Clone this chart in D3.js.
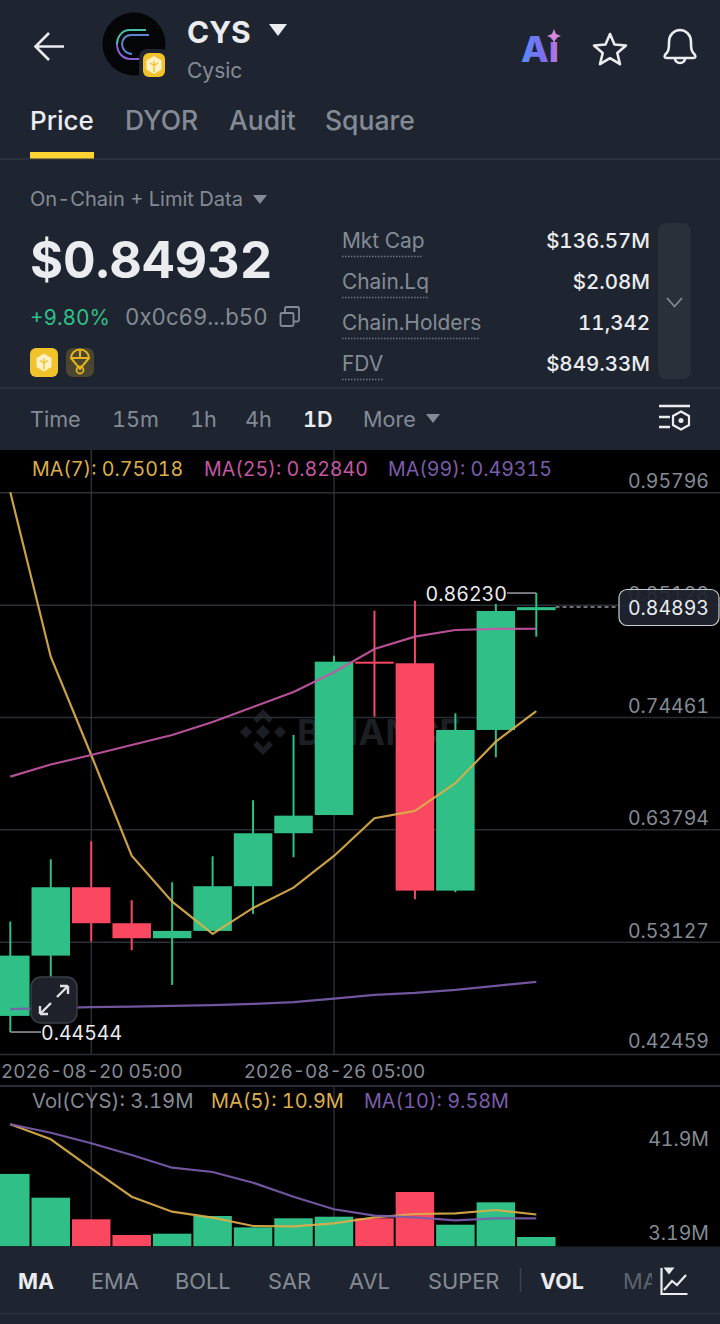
<!DOCTYPE html>
<html>
<head>
<meta charset="utf-8">
<title>CYS</title>
<script src="https://cdn.jsdelivr.net/npm/d3@7/dist/d3.min.js"></script>
<style>
    html, body { margin: 0; padding: 0; background: #1f2530; overflow: hidden; }
    svg { display: block; }
    text { font-family: Inter, "Noto Sans", sans-serif; font-variant-numeric: tabular-nums; }
    .axis path { display: none; }
</style>
</head>
<body>
<svg id="chart" width="720" height="1324"></svg>
<script>
// candles, one per day
var dates = ["2026-08-18", "2026-08-19", "2026-08-20", "2026-08-21", "2026-08-22", "2026-08-23", "2026-08-24",
    "2026-08-25", "2026-08-26", "2026-08-27", "2026-08-28", "2026-08-29", "2026-08-30", "2026-08-31"];
var opens = [0.46076, 0.5180, 0.58295, 0.54877, 0.53453, 0.54146, 0.5839, 0.63421, 0.6515, 0.79713, 0.79561, 0.57972, 0.73229, 0.84603];
var closes = [0.51801, 0.58295, 0.54877, 0.53453, 0.54146, 0.5839, 0.63421, 0.65092, 0.79713, 0.79561, 0.57972, 0.73229, 0.84527, 0.84893];
var highs = [0.55029, 0.60953, 0.62662, 0.5706, 0.58769, 0.61238, 0.66554, 0.72754, 0.80283, 0.84555, 0.85504, 0.74814, 0.85191, 0.8623];
var lows = [0.44544, 0.4902, 0.5313, 0.52313, 0.49019, 0.54146, 0.5576, 0.61143, 0.6515, 0.74491, 0.57155, 0.5782, 0.70637, 0.82087];

// moving averages
var ma7 = [0.958, 0.80188, 0.70855, 0.61295, 0.56928, 0.53861, 0.5633, 0.58257, 0.61266, 0.64846, 0.65539, 0.68168, 0.72118, 0.75018];
var ma25 = [0.68795, 0.69953, 0.70855, 0.71805, 0.72754, 0.73988, 0.75412, 0.76836, 0.78707, 0.80919, 0.82087, 0.82723, 0.82818, 0.8284];
var ma99 = [0.46712, 0.46807, 0.46902, 0.46959, 0.47026, 0.47092, 0.47215, 0.47377, 0.47718, 0.48069, 0.48259, 0.48544, 0.48924, 0.49315];

// volume pane, in millions
var volumes = [24.8, 16.65, 9.25, 3.87, 4.32, 10.38, 6.5, 9.6, 10.14, 9.6, 18.6, 7.4, 15.07, 3.19];
var volMa5 = [41.8, 36.66, 26.72, 17.0, 11.85, 9.8, 6.95, 6.85, 7.88, 9.94, 11.07, 11.3, 12.44, 10.9];
var volMa10 = [41.8, 38.92, 35.29, 31.28, 26.93, 25.46, 21.79, 16.99, 12.68, 10.48, 9.94, 8.91, 9.59, 9.58];

// tick labels
var priceTicks = [0.95796, 0.85128, 0.74461, 0.63794, 0.53127, 0.42459];
var dateTicks = ["2026-08-20", "2026-08-26"];
var volTicks = [41.9, 3.19];
var lastPrice = 0.84893;

// app text
var tabs = [["Price", 30], ["DYOR", 125], ["Audit", 229], ["Square", 325]];
var stats = [["Mkt Cap", "$136.57M", 241, 81], ["Chain.Lq", "$2.08M", 282, 87], ["Chain.Holders", "11,342", 323, 139], ["FDV", "$849.33M", 364, 42]];
var intervals = [["Time", 30], ["15m", 112], ["1h", 190], ["4h", 245], ["1D", 303], ["More", 363]];
var indicators = [["MA", 18], ["EMA", 91], ["BOLL", 175], ["SAR", 268], ["AVL", 349], ["SUPER", 428], ["VOL", 540], ["MA", 623]];

var green = "#2fbf87", red = "#f9485f", gold = "#dcae4a", pink = "#c457a4", purple = "#7b5cab";
var grey = "#848b95", white = "#eaecef", panel = "#1f2530", rule = "#2a2e36";

var svg = d3.select("#chart");

// scales
var x = d3.scalePoint().domain(dates).range([10.3, 536.3]);
var y = d3.scaleLinear().domain([0.95796, 0.42459]).range([492.3, 1054]);
var yVol = d3.scaleLinear().domain([0, 41.9]).range([1246.3, 1124]);
var bodyW = 38.5;

function label(g, str, px, py, size, fill, weight, anchor) {
    return g.append("text").attr("x", px).attr("y", py)
        .attr("font-size", size).attr("fill", fill)
        .attr("font-weight", weight || 400)
        .attr("text-anchor", anchor || "start")
        .text(str);
}

function tri(g, cx, cy, w, h, fill) {
    g.append("path").attr("d", d3.line()([[cx - w / 2, cy - h / 2], [cx + w / 2, cy - h / 2], [cx, cy + h / 2]]) + "Z").attr("fill", fill);
}

// the little yellow bnb chain badge
function badge(g, bx, by, w, h) {
    g.append("rect").attr("x", bx).attr("y", by).attr("width", w).attr("height", h).attr("rx", 6).attr("fill", "#f0c32c");
    var cx = bx + w / 2, cy = by + h / 2;
    g.append("path").attr("d", "M" + cx + "," + (cy - 9) + "l7.5,4.5v9l-7.5,4.5l-7.5,-4.5v-9Z")
        .attr("fill", "#fff6d8").attr("fill-opacity", 0.9);
    g.append("path").attr("d", "M" + cx + "," + (cy - 4) + "v11M" + (cx - 4) + "," + (cy - 2) + "l4,2.5l4,-2.5")
        .attr("fill", "none").attr("stroke", "#f0c32c").attr("stroke-width", 1.4);
}

/************ chart panes ************/
var pane = svg.append("g");
pane.append("rect").attr("x", 0).attr("y", 450).attr("width", 720).attr("height", 797).attr("fill", "#000");

// watermark sits behind the candles
var wm = pane.append("g").attr("transform", "translate(263,732)").attr("fill", "#1b1e23");
wm.append("path").attr("d", "M0,-23L10,-13L6,-9L0,-15L-6,-9L-10,-13ZM0,23L10,13L6,9L0,15L-6,9L-10,13ZM-23,0L-17,-6L-11,0L-17,6ZM23,0L17,-6L11,0L17,6ZM0,-7L7,0L0,7L-7,0Z");
label(wm, "BINANCE", 34, 13, 36, "#1b1e23", 700);

// horizontal grid and price labels come from the axis
var yAxis = d3.axisRight(y).tickValues(priceTicks).tickSize(720).tickFormat(d3.format(".5f"));
var gy = pane.append("g").attr("class", "axis").call(yAxis);
gy.selectAll("line").attr("stroke", rule).attr("stroke-width", 1.5);
gy.selectAll("text").attr("x", 709).attr("dy", function (d, i) { return i == 5 ? -6.5 : -4.5; })
    .attr("text-anchor", "end").attr("font-size", 19.5).attr("fill", grey)
    .style("font-family", "Inter, sans-serif");

// vertical date lines run through both panes
dateTicks.forEach(function (d) {
    pane.append("line").attr("x1", x(d)).attr("x2", x(d)).attr("y1", 450).attr("y2", 1054).attr("stroke", "#343743").attr("stroke-width", 1.2);
    pane.append("line").attr("x1", x(d)).attr("x2", x(d)).attr("y1", 1087).attr("y2", 1246).attr("stroke", "#343743").attr("stroke-width", 1.2);
});

// date labels
var xAxis = d3.axisBottom(x).tickValues(dateTicks).tickSize(0).tickFormat(function (d) { return d + " 05:00"; });
var gx = pane.append("g").attr("class", "axis").attr("transform", "translate(0,1054)").call(xAxis);
gx.selectAll("text").attr("y", 24).attr("dy", 0).attr("font-size", 18.9).attr("fill", grey)
    .style("font-family", "Inter, sans-serif");
pane.append("line").attr("x1", 0).attr("x2", 720).attr("y1", 1086).attr("y2", 1086).attr("stroke", rule).attr("stroke-width", 2);

// candles
var candle = pane.selectAll(".candle").data(dates).enter().append("g").attr("class", "candle")
    .attr("fill", function (d, i) { return closes[i] >= opens[i] ? green : red; });
candle.append("rect").attr("class", "wick")
    .attr("x", function (d) { return x(d) - 1; }).attr("width", 2)
    .attr("y", function (d, i) { return y(highs[i]); })
    .attr("height", function (d, i) { return y(lows[i]) - y(highs[i]); });
candle.append("rect").attr("class", "body")
    .attr("x", function (d) { return x(d) - bodyW / 2; }).attr("width", bodyW)
    .attr("y", function (d, i) { return y(Math.max(opens[i], closes[i])); })
    .attr("height", function (d, i) { return Math.max(2, Math.abs(y(opens[i]) - y(closes[i]))); });

// volume bars
pane.selectAll(".vol").data(dates).enter().append("rect").attr("class", "vol")
    .attr("x", function (d) { return x(d) - bodyW / 2; }).attr("width", bodyW)
    .attr("y", function (d, i) { return yVol(volumes[i]); })
    .attr("height", function (d, i) { return yVol(0) - yVol(volumes[i]); })
    .attr("fill", function (d, i) { return closes[i] >= opens[i] ? green : red; });

// moving average lines
function maLine(values, scale, colour) {
    var line = d3.line().x(function (d, i) { return x(dates[i]); }).y(function (d) { return scale(d); });
    pane.append("path").attr("d", line(values)).attr("fill", "none")
        .attr("stroke", colour).attr("stroke-width", 2.2).attr("stroke-opacity", 0.92);
}
maLine(ma7, y, gold);
maLine(ma25, y, pink);
maLine(ma99, y, purple);
maLine(volMa5, yVol, gold);
maLine(volMa10, yVol, purple);

// high and low markers
var hiDate = dates[highs.indexOf(d3.max(highs))], loDate = dates[lows.indexOf(d3.min(lows))];
pane.append("line").attr("x1", x(hiDate)).attr("x2", 507).attr("y1", y(d3.max(highs))).attr("y2", y(d3.max(highs))).attr("stroke", "#9a9da3").attr("stroke-width", 1.5);
label(pane, d3.format(".5f")(d3.max(highs)), 507, 601, 19.6, white, 400, "end");
pane.append("line").attr("x1", x(loDate)).attr("x2", 41).attr("y1", y(d3.min(lows))).attr("y2", y(d3.min(lows))).attr("stroke", "#9a9da3").attr("stroke-width", 1.5);
label(pane, d3.format(".5f")(d3.min(lows)), 41, 1040, 19.5, white);

// last price tag
pane.append("line").attr("x1", x(dates[13]) + bodyW / 2).attr("x2", 619).attr("y1", y(lastPrice)).attr("y2", y(lastPrice))
    .attr("stroke", "#8f9298").attr("stroke-width", 1.5).attr("stroke-dasharray", "4 3");
pane.append("rect").attr("x", 619).attr("y", 589.5).attr("width", 100).attr("height", 36).attr("rx", 8)
    .attr("fill", "#1f2530").attr("fill-opacity", 0.92).attr("stroke", "#c9ccd1").attr("stroke-width", 1.2);
label(pane, d3.format(".5f")(lastPrice), 709, 615, 19.5, white, 400, "end");

// legends
label(pane, "MA(7): 0.75018", 32, 476, 19.6, gold);
label(pane, "MA(25): 0.82840", 204, 476, 19.6, pink);
label(pane, "MA(99): 0.49315", 388, 476, 19.6, purple);
label(pane, "Vol(CYS): 3.19M", 32, 1108, 20.3, grey);
label(pane, "MA(5): 10.9M", 211, 1108, 19.9, gold);
label(pane, "MA(10): 9.58M", 364, 1108, 19.8, purple);
label(pane, volTicks[0] + "M", 709, 1146, 19.5, grey, 400, "end");
label(pane, volTicks[1] + "M", 709, 1240, 19.5, grey, 400, "end");

// expand button
var btn = pane.append("g").attr("transform", "translate(54,1000)");
btn.append("rect").attr("x", -23).attr("y", -23).attr("width", 46).attr("height", 46).attr("rx", 10)
    .attr("fill", "#1e2129").attr("stroke", "#3a3e47").attr("stroke-width", 1.5);
btn.append("path").attr("d", "M-14,14L-3,3M-14,14L-14,6M-14,14L-6,14M14,-14L3,-3M14,-14L14,-6M14,-14L6,-14")
    .attr("fill", "none").attr("stroke", "#dfe1e4").attr("stroke-width", 2.4);

/************ app chrome ************/
var ui = svg.append("g");
ui.append("rect").attr("y", 0).attr("width", 720).attr("height", 450).attr("fill", panel);
ui.append("rect").attr("y", 1246.5).attr("width", 720).attr("height", 78).attr("fill", panel);
[[159, 2], [388, 2], [1313.5, 1.5]].forEach(function (r) {
    ui.append("line").attr("x1", 0).attr("x2", 720).attr("y1", r[0]).attr("y2", r[0]).attr("stroke", "#2b313b").attr("stroke-width", r[1]);
});

// header
ui.append("path").attr("d", "M64,46.5H36M49,33L35.5,46.5L49,60").attr("fill", "none").attr("stroke", white).attr("stroke-width", 2.6);
ui.append("circle").attr("cx", 134).attr("cy", 44).attr("r", 31.5).attr("fill", "#040506");
ui.append("path").attr("d", "M146,30H130C121,30 117,38 117,44").attr("fill", "none").attr("stroke", "#46c2a6").attr("stroke-width", 2);
ui.append("path").attr("d", "M117,44C117,52 122,59 131,59H140").attr("fill", "none").attr("stroke", "#8a62d8").attr("stroke-width", 2);
ui.append("path").attr("d", "M149,35H131C125,35 122,40 122,44C122,49 126,54 132,54").attr("fill", "none").attr("stroke", "#5d86d0").attr("stroke-width", 2);
ui.append("rect").attr("x", 139).attr("y", 49).attr("width", 30).attr("height", 34).attr("rx", 8).attr("fill", panel);
badge(ui, 143, 53, 22, 24);
label(ui, "CYS", 187, 43, 30, white, 700);
tri(ui, 278, 30, 18, 12, white);
label(ui, "Cysic", 187, 78, 21, grey);

// ai, star, bell
var aiGrad = svg.append("defs").append("linearGradient").attr("id", "aiGrad").attr("x1", "0").attr("x2", "1");
aiGrad.append("stop").attr("offset", "0").attr("stop-color", "#5a8cf5");
aiGrad.append("stop").attr("offset", "0.6").attr("stop-color", "#7c6cf0");
aiGrad.append("stop").attr("offset", "1").attr("stop-color", "#c07ae0");
label(ui, "Ai", 521, 62, 36, "url(#aiGrad)", 800);
ui.append("path").attr("d", "M554,29l2,5l5,2l-5,2l-2,5l-2,-5l-5,-2l5,-2Z").attr("fill", "#d58ad8");
ui.append("path").attr("d", "M610,34l4.5,10.5l11.5,1l-8.7,7.5l2.7,11.2l-10,-6l-10,6l2.7,-11.2l-8.7,-7.500l11.5,-1Z")
    .attr("fill", "none").attr("stroke", white).attr("stroke-width", 2.6).attr("stroke-linejoin", "round");
ui.append("path").attr("d", "M665,55c3,-3 4,-5 4,-11v-2c0,-7 5,-12 11,-12s11,5 11,12v2c0,6 1,8 4,11c1,2 0,3 -2,3h-26c-2,0 -3,-1 -2,-3ZM675,58c0,3 2,5 5,5s5,-2 5,-5")
    .attr("fill", "none").attr("stroke", white).attr("stroke-width", 2.6);

// tabs
tabs.forEach(function (t, i) {
    label(ui, t[0], t[1], 130, i == 0 ? 26 : 26.5, i == 0 ? white : grey, 500);
});
ui.append("rect").attr("x", 30).attr("y", 152).attr("width", 64).attr("height", 6.5).attr("fill", "#fcd535");

// price block
label(ui, "On-Chain + Limit Data", 30, 206, 20.1, grey);
tri(ui, 260, 199.5, 14, 9, grey);
label(ui, "$0.84932", 30, 278, 50.5, white, 700);
label(ui, "+9.80%", 30, 325, 20.8, green);
label(ui, "0x0c69...b50", 125, 325, 22.2, grey);
ui.append("path").attr("d", "M285,313v-4.5c0,-1 .8,-1.5 1.5,-1.5h11c1,0 1.500,.6 1.500,1.500v11.500c0,1 -.6,1.500 -1.500,1.500h-3.500M282,313h10c1,0 1.500,.6 1.500,1.500v10c0,1 -.6,1.500 -1.500,1.500h-10c-1,0 -1.500,-.6 -1.500,-1.500v-10c0,-1 .6,-1.500 1.500,-1.500Z")
    .attr("fill", "none").attr("stroke", grey).attr("stroke-width", 1.8);
badge(ui, 30, 348, 28, 29);
ui.append("rect").attr("x", 66).attr("y", 348).attr("width", 28).attr("height", 29).attr("rx", 7).attr("fill", "#4b4630");
ui.append("path").attr("d", "M71,358a9,8.500 0 0 1 18,0ZM71,358l9,11l9,-11M80,349.500v8").attr("fill", "none").attr("stroke", "#e3b41c").attr("stroke-width", 2);
ui.append("circle").attr("cx", 80).attr("cy", 370).attr("r", 3.5).attr("fill", "none").attr("stroke", "#e3b41c").attr("stroke-width", 1.8);

// stats
stats.forEach(function (s) {
    label(ui, s[0], 342, s[2] + 7, 20.9, grey);
    label(ui, s[1], 650, s[2] + 7, 20.5, white, 500, "end");
    ui.append("line").attr("x1", 342).attr("x2", 342 + s[3] - 1).attr("y1", s[2] + 15.5).attr("y2", s[2] + 15.5)
        .attr("stroke", "#6f7680").attr("stroke-width", 1.4).attr("stroke-dasharray", "1.5 1.5");
});
ui.append("rect").attr("x", 658).attr("y", 223).attr("width", 33).attr("height", 156).attr("rx", 8).attr("fill", "#2a303a");
ui.append("path").attr("d", "M667,298l7.500,8.500l7.500,-8.500").attr("fill", "none").attr("stroke", grey).attr("stroke-width", 1.8);

// interval row
intervals.forEach(function (t) {
    var on = t[0] == "1D";
    label(ui, t[0], t[1], 427, 21.6, on ? white : grey, on ? 600 : 400);
});
tri(ui, 433, 418.5, 14, 9, grey);
ui.append("path").attr("d", "M659,406h31M659,417h11M659,427h11").attr("fill", "none").attr("stroke", white).attr("stroke-width", 2.4);
ui.append("path").attr("d", "M681,411.500l8,4.500v9l-8,4.500l-8,-4.500v-9Z").attr("fill", "none").attr("stroke", white).attr("stroke-width", 2.2);
ui.append("circle").attr("cx", 681).attr("cy", 420.500).attr("r", 2.5).attr("fill", white);

// indicator row
indicators.forEach(function (t, i) {
    var on = t[0] == "VOL" || i == 0;
    label(ui, t[0], t[1], 1289, on ? 21.5 : 21.8, i == 7 ? "#5d636d" : (on ? white : grey), on ? 700 : 400);
});
ui.append("line").attr("x1", 520.500).attr("x2", 520.500).attr("y1", 1268).attr("y2", 1292).attr("stroke", "#3b424d").attr("stroke-width", 1.5);
ui.append("rect").attr("x", 652).attr("y", 1262).attr("width", 44).attr("height", 40).attr("fill", panel);
ui.append("path").attr("d", "M661.500,1268v26h26M664,1290l8,-9l5,4l9,-10").attr("fill", "none").attr("stroke", white).attr("stroke-width", 2.2);
tri(ui, 669, 1271, 11, 7, white);
</script>
</body>
</html>
